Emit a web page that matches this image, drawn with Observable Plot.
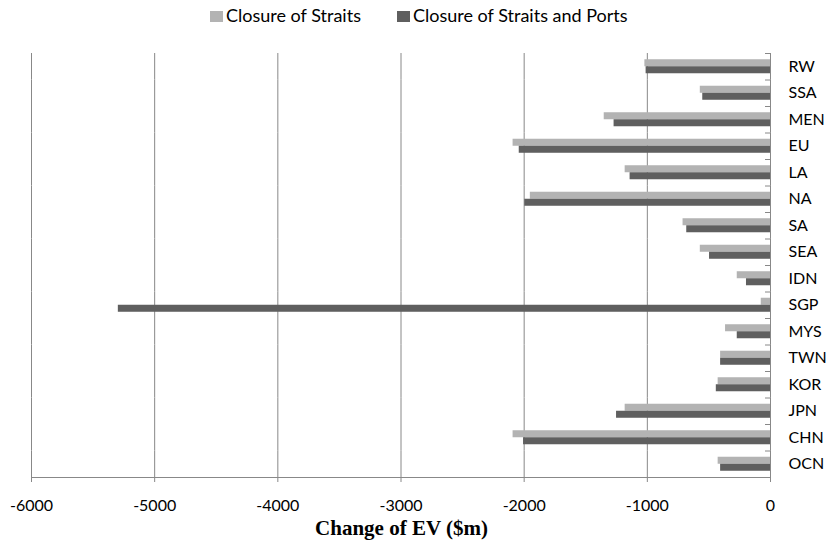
<!DOCTYPE html>
<html>
<head>
<meta charset="utf-8">
<script src="https://cdn.jsdelivr.net/npm/d3@7"></script>
<script src="https://cdn.jsdelivr.net/npm/@observablehq/plot@0.6"></script>
<style>
  html, body { margin: 0; padding: 0; background: #fff; }
  body { width: 828px; height: 548px; overflow: hidden; font-family: Lato, "Open Sans", sans-serif; color: #000; }
  #legend { height: 40px; position: relative; }
  #legend .item { position: absolute; top: 5px; display: flex; align-items: center; font-size: 18px; line-height: 20px; white-space: nowrap; }
  #legend .sw { width: 13px; height: 11px; margin-right: 3px; margin-top: 3px; }
  #chart { height: 480px; }
  #chart svg { display: block; }
  #xtitle { position: relative; top: -3px; height: 28px; text-align: center; font-family: "Liberation Serif", "Times New Roman", serif; font-weight: bold; font-size: 21px; line-height: 22px; padding-right: 25px; box-sizing: border-box; }
</style>
</head>
<body>
<div id="legend"></div>
<div id="chart"></div>
<div id="xtitle"></div>
<script>
const regions = ["RW","SSA","MEN","EU","LA","NA","SA","SEA","IDN","SGP","MYS","TWN","KOR","JPN","CHN","OCN"];
const closureStraits =         [-1020, -570, -1350, -2090, -1180, -1950, -710, -570, -270,   -75, -365, -405, -425, -1180, -2090, -425];
const closureStraitsAndPorts = [-1010, -550, -1270, -2040, -1140, -1995, -680, -495, -195, -5295, -270, -405, -440, -1250, -2005, -405];
const seriesNames = ["Closure of Straits", "Closure of Straits and Ports"];
const seriesColors = ["#b3b3b3", "#5f5f5f"];
const xTicks = [-6000, -5000, -4000, -3000, -2000, -1000, 0];
const xTitle = "Change of EV ($m)";

const rows = regions.flatMap((r, i) => [
  {region: r, series: seriesNames[0], value: closureStraits[i]},
  {region: r, series: seriesNames[1], value: closureStraitsAndPorts[i]}
]);

// legend
const legend = document.getElementById("legend");
const legendLefts = [210, 397];
seriesNames.forEach((s, i) => {
  const it = document.createElement("div");
  it.className = "item";
  it.style.left = legendLefts[i] + "px";
  const sw = document.createElement("span");
  sw.className = "sw";
  sw.style.background = seriesColors[i];
  it.appendChild(sw);
  it.appendChild(document.createTextNode(s));
  legend.appendChild(it);
});
document.getElementById("xtitle").textContent = xTitle;

const bandHalf = 26.5 / 2;

function build(useFrame, useBoundaryTicks) {
  const marks = [
    Plot.ruleX(xTicks, {stroke: "#888", strokeWidth: 1}),
    Plot.barX(rows, {x: "value", y: "series", fy: "region", fill: "series"}),
    Plot.axisX({ticks: xTicks, tickSize: 5, stroke: "#888", tickPadding: 17.5, tickFormat: d => String(d), label: null, fontSize: 16}),
    Plot.axisFy({anchor: "right", tickSize: 0, tickPadding: 18, label: null, fontSize: 16, textAnchor: "start"})
  ];
  if (useBoundaryTicks) marks.push(Plot.axisFy({anchor: "right", tickSize: -6, stroke: "#888", text: null, label: null, dy: -bandHalf}));
  if (useFrame) marks.push(Plot.frame({anchor: "bottom", stroke: "#888", facet: "super"}));
  return Plot.plot({
    width: 828,
    height: 480,
    marginTop: 13,
    marginBottom: 43,
    marginLeft: 31,
    marginRight: 58,
    style: {fontFamily: "Lato, 'Open Sans', sans-serif", fontSize: "16px", color: "#000", background: "#fff"},
    x: {domain: [-6000, 0]},
    fy: {domain: regions, padding: 0, round: false},
    y: {domain: seriesNames, paddingInner: 0, paddingOuter: 0.89, round: false, axis: null},
    color: {domain: seriesNames, range: seriesColors},
    marks
  });
}
let chart;
try { chart = build(true, true); } catch (e) { console.error(e);
  try { chart = build(true, false); } catch (e2) { console.error(e2); chart = build(false, false); } }
document.getElementById("chart").appendChild(chart);
</script>
</body>
</html>
